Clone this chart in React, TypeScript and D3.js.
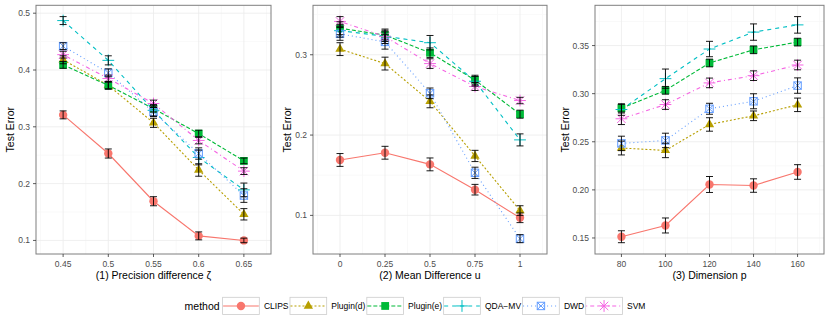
import React, { useEffect, useRef } from "react";
import * as d3 from "d3";

const methods = ["CLIPS", "Plugin(d)", "Plugin(e)", "QDA\u2212MV", "DWD", "SVM"];
const colors = ["#F8766D", "#B79F00", "#00BA38", "#00BFC4", "#619CFF", "#F564E3"];
const dashes = ["", "2,2", "4,2", "4,4", "1,3", "1,3,4,3"];

// Panel 1: precision difference zeta
const zetaX = [0.45, 0.5, 0.55, 0.6, 0.65];
const zetaXLabels = ["0.45", "0.5", "0.55", "0.6", "0.65"];
const zetaYTicks = [0.1, 0.2, 0.3, 0.4, 0.5];
const zetaYLabels = ["0.1", "0.2", "0.3", "0.4", "0.5"];
const zetaMean = [
  [0.321, 0.253, 0.169, 0.108, 0.1],
  [0.418, 0.373, 0.307, 0.224, 0.146],
  [0.409, 0.373, 0.332, 0.288, 0.24],
  [0.487, 0.417, 0.329, 0.246, 0.189],
  [0.442, 0.395, 0.326, 0.253, 0.179],
  [0.427, 0.385, 0.341, 0.276, 0.222],
];
const zetaSE = [
  [0.007, 0.008, 0.008, 0.007, 0.004],
  [0.007, 0.007, 0.008, 0.011, 0.01],
  [0.006, 0.006, 0.006, 0.006, 0.005],
  [0.007, 0.008, 0.01, 0.013, 0.012],
  [0.006, 0.007, 0.008, 0.01, 0.012],
  [0.006, 0.006, 0.006, 0.006, 0.006],
];

// Panel 2: mean difference u
const uX = [0, 0.25, 0.5, 0.75, 1];
const uXLabels = ["0", "0.25", "0.5", "0.75", "1"];
const uYTicks = [0.1, 0.2, 0.3];
const uYLabels = ["0.1", "0.2", "0.3"];
const uMean = [
  [0.169, 0.178, 0.1635, 0.132, 0.097],
  [0.307, 0.289, 0.242, 0.174, 0.106],
  [0.333, 0.3245, 0.3025, 0.2685, 0.226],
  [0.33, 0.323, 0.315, 0.267, 0.194],
  [0.326, 0.316, 0.252, 0.153, 0.071],
  [0.3415, 0.3225, 0.289, 0.2605, 0.243],
];
const uSE = [
  [0.008, 0.008, 0.008, 0.0066, 0.006],
  [0.008, 0.008, 0.008, 0.007, 0.006],
  [0.008, 0.006, 0.006, 0.006, 0.005],
  [0.008, 0.009, 0.009, 0.006, 0.0075],
  [0.008, 0.009, 0.0066, 0.007, 0.005],
  [0.006, 0.006, 0.006, 0.005, 0.004],
];

// Panel 3: dimension p
const pX = [80, 100, 120, 140, 160];
const pXLabels = ["80", "100", "120", "140", "160"];
const pYTicks = [0.15, 0.2, 0.25, 0.3, 0.35];
const pYLabels = ["0.15", "0.20", "0.25", "0.30", "0.35"];
const pMean = [
  [0.1513, 0.163, 0.2056, 0.2045, 0.2186],
  [0.2435, 0.241, 0.268, 0.277, 0.2884],
  [0.2849, 0.3035, 0.3319, 0.3456, 0.3536],
  [0.2835, 0.3156, 0.3464, 0.364, 0.3715],
  [0.2483, 0.2514, 0.2843, 0.2921, 0.3084],
  [0.2739, 0.2887, 0.3112, 0.3187, 0.3298],
];
const pSE = [
  [0.0062, 0.0078, 0.0083, 0.007, 0.0076],
  [0.0072, 0.0075, 0.007, 0.005, 0.007],
  [0.004, 0.004, 0.004, 0.004, 0.004],
  [0.006, 0.01, 0.008, 0.0085, 0.0086],
  [0.0075, 0.0075, 0.0057, 0.0078, 0.008],
  [0.006, 0.005, 0.005, 0.005, 0.005],
];

const xTitles = ["(1) Precision difference \u03b6", "(2) Mean Difference u", "(3) Dimension p"];
const yTitle = "Test Error";
const legendTitle = "method";

const FONT = "'Liberation Sans', Arial, Helvetica, sans-serif";

function drawShape(g: any, k: number, color: string) {
  if (k === 0) {
    g.append("circle").attr("r", 4.2).attr("fill", color);
  } else if (k === 1) {
    const xc = 3.45;
    const r = 1.555 * xc, yc = 0.778 * xc, w = 1.347 * xc;
    g.append("path").attr("d", `M0,${-r}L${w},${yc}L${-w},${yc}Z`).attr("fill", color);
  } else if (k === 2) {
    const h = 3.9;
    g.append("rect").attr("x", -h).attr("y", -h).attr("width", 2 * h).attr("height", 2 * h).attr("fill", color);
  } else if (k === 3) {
    const h = 5.9;
    g.append("path").attr("d", `M${-h},0H${h}M0,${-h}V${h}`).attr("stroke", color).attr("stroke-width", 1).attr("fill", "none");
  } else if (k === 4) {
    const h = 3.7;
    g.append("rect").attr("x", -h).attr("y", -h).attr("width", 2 * h).attr("height", 2 * h).attr("fill", "none").attr("stroke", color).attr("stroke-width", 1);
    g.append("path").attr("d", `M${-h},${-h}L${h},${h}M${-h},${h}L${h},${-h}`).attr("stroke", color).attr("stroke-width", 1);
  } else {
    const d = 4.2, p = 5.9;
    g.append("path").attr("d", `M${-d},${-d}L${d},${d}M${-d},${d}L${d},${-d}M${-p},0H${p}M0,${-p}V${p}`).attr("stroke", color).attr("stroke-width", 1).attr("fill", "none");
  }
}

function minorBreaks(ticks: number[], dom: number[]) {
  const step = ticks[1] - ticks[0];
  const out: number[] = [];
  for (let i = -1; i < ticks.length; i++) {
    const v = ticks[0] + (i + 0.5) * step;
    if (v >= dom[0] && v <= dom[1]) out.push(v);
  }
  return out;
}

export default function App() {
  const ref = useRef<SVGSVGElement>(null);
  useEffect(() => {
    const svg = d3.select(ref.current);
    svg.selectAll("*").remove();
    svg.append("rect").attr("width", 830).attr("height", 320).attr("fill", "#fff");

    const panels = [
      { left: 36, right: 271, x: zetaX, xl: zetaXLabels, yt: zetaYTicks, yl: zetaYLabels, mean: zetaMean, se: zetaSE },
      { left: 313, right: 547, x: uX, xl: uXLabels, yt: uYTicks, yl: uYLabels, mean: uMean, se: uSE },
      { left: 595, right: 824, x: pX, xl: pXLabels, yt: pYTicks, yl: pYLabels, mean: pMean, se: pSE },
    ];
    const top = 5.3, bottom = 254;

    panels.forEach((P, pi) => {
      const xr = d3.extent(P.x) as number[];
      const xs = xr[1] - xr[0];
      const xDom = [xr[0] - 0.15 * xs, xr[1] + 0.15 * xs];
      let lo = Infinity, hi = -Infinity;
      P.mean.forEach((row, i) => row.forEach((v, j) => {
        lo = Math.min(lo, v - P.se[i][j]);
        hi = Math.max(hi, v + P.se[i][j]);
      }));
      const ys = hi - lo;
      const yDom = [lo - 0.05 * ys, hi + 0.05 * ys];
      const x = d3.scaleLinear().domain(xDom).range([P.left, P.right]);
      const y = d3.scaleLinear().domain(yDom).range([bottom, top]);
      const g = svg.append("g");

      // minor grid
      minorBreaks(P.x, xDom).forEach((v) => {
        g.append("line").attr("x1", x(v)).attr("x2", x(v)).attr("y1", top).attr("y2", bottom).attr("stroke", "#F7F7F7").attr("stroke-width", 0.8);
      });
      minorBreaks(P.yt, yDom).forEach((v) => {
        g.append("line").attr("y1", y(v)).attr("y2", y(v)).attr("x1", P.left).attr("x2", P.right).attr("stroke", "#F7F7F7").attr("stroke-width", 0.8);
      });
      // major grid
      P.x.forEach((v) => {
        g.append("line").attr("x1", x(v)).attr("x2", x(v)).attr("y1", top).attr("y2", bottom).attr("stroke", "#EBEBEB").attr("stroke-width", 0.8);
      });
      P.yt.forEach((v) => {
        g.append("line").attr("y1", y(v)).attr("y2", y(v)).attr("x1", P.left).attr("x2", P.right).attr("stroke", "#EBEBEB").attr("stroke-width", 0.8);
      });

      // lines
      const line = d3.line<number>().x((_, j) => x(P.x[j])).y((d) => y(d));
      P.mean.forEach((row, i) => {
        g.append("path").attr("d", line(row) as string).attr("fill", "none").attr("stroke", colors[i]).attr("stroke-width", 1.1).attr("stroke-dasharray", dashes[i] || null);
      });
      // points
      P.mean.forEach((row, i) => {
        row.forEach((v, j) => {
          const pg = g.append("g").attr("transform", `translate(${x(P.x[j])},${y(v)})`);
          drawShape(pg, i, colors[i]);
        });
      });
      // error bars
      P.mean.forEach((row, i) => {
        row.forEach((v, j) => {
          const cx = x(P.x[j]);
          const y1 = y(v + P.se[i][j]), y2 = y(v - P.se[i][j]);
          const cw = 3.5;
          g.append("path").attr("d", `M${cx - cw},${y1}H${cx + cw}M${cx},${y1}V${y2}M${cx - cw},${y2}H${cx + cw}`).attr("stroke", "#000").attr("stroke-width", 0.9).attr("fill", "none");
        });
      });

      // border
      g.append("rect").attr("x", P.left).attr("y", top).attr("width", P.right - P.left).attr("height", bottom - top).attr("fill", "none").attr("stroke", "#7F7F7F").attr("stroke-width", 1);

      // x ticks
      P.x.forEach((v, j) => {
        g.append("line").attr("x1", x(v)).attr("x2", x(v)).attr("y1", bottom).attr("y2", bottom + 3).attr("stroke", "#333").attr("stroke-width", 0.8);
        g.append("text").attr("x", x(v)).attr("y", 266.6).attr("text-anchor", "middle").attr("font-size", 8.5).attr("fill", "#4D4D4D").attr("font-family", FONT).text(P.xl[j]);
      });
      // y ticks
      let maxW = 0;
      P.yt.forEach((v, j) => {
        g.append("line").attr("x1", P.left - 3).attr("x2", P.left).attr("y1", y(v)).attr("y2", y(v)).attr("stroke", "#333").attr("stroke-width", 0.8);
        const t = g.append("text").attr("x", P.left - 6).attr("y", y(v)).attr("dy", "0.35em").attr("text-anchor", "end").attr("font-size", 8.5).attr("fill", "#4D4D4D").attr("font-family", FONT).text(P.yl[j]);
        const node = t.node() as SVGTextElement;
        maxW = Math.max(maxW, node.getComputedTextLength());
      });
      // titles
      g.append("text").attr("x", (P.left + P.right) / 2).attr("y", 279).attr("text-anchor", "middle").attr("font-size", 10.5).attr("fill", "#000").attr("font-family", FONT).text(xTitles[pi]);
      const tx = P.left - 6 - maxW - 7.5;
      const ty = (top + bottom) / 2;
      g.append("text").attr("transform", `translate(${tx},${ty}) rotate(-90)`).attr("dy", "0.35em").attr("text-anchor", "middle").attr("font-size", 10.5).attr("fill", "#000").attr("font-family", FONT).text(yTitle);
    });

    // legend
    const lg = svg.append("g");
    const keyW = 36.7, keyH = 17.3, keyTop = 297.3;
    const cy = keyTop + keyH / 2;
    const title = lg.append("text").attr("y", cy).attr("dy", "0.35em").attr("font-size", 10.5).attr("font-family", FONT).attr("fill", "#000").text(legendTitle);
    const titleW = (title.node() as SVGTextElement).getComputedTextLength();
    const labels = methods.map((m) => {
      const t = lg.append("text").attr("y", cy).attr("dy", "0.35em").attr("font-size", 8.5).attr("font-family", FONT).attr("fill", "#000").text(m);
      return { t, w: (t.node() as SVGTextElement).getComputedTextLength() };
    });
    const gapTitle = 3, gapKey = 4.6, gapItem = 1.5;
    let total = titleW + gapTitle;
    labels.forEach((l, i) => { total += keyW + gapKey + l.w + (i < labels.length - 1 ? gapItem : 0); });
    let cx = 415 - total / 2;
    title.attr("x", cx);
    cx += titleW + gapTitle;
    labels.forEach((l, i) => {
      lg.append("rect").attr("x", cx).attr("y", keyTop).attr("width", keyW).attr("height", keyH).attr("fill", "#fff").attr("stroke", "#CCCCCC").attr("stroke-width", 0.8);
      lg.append("line").attr("x1", cx + 0.5).attr("x2", cx + keyW - 0.5).attr("y1", cy).attr("y2", cy).attr("stroke", colors[i]).attr("stroke-width", 1.1).attr("stroke-dasharray", dashes[i] || null);
      const pg = lg.append("g").attr("transform", `translate(${cx + keyW / 2},${cy})`);
      drawShape(pg, i, colors[i]);
      cx += keyW + gapKey;
      l.t.attr("x", cx);
      cx += l.w + gapItem;
    });
  }, []);
  return (
    <svg
      ref={ref}
      width={830}
      height={320}
      style={{ position: "absolute", left: 0, top: 0, display: "block" }}
    />
  );
}
